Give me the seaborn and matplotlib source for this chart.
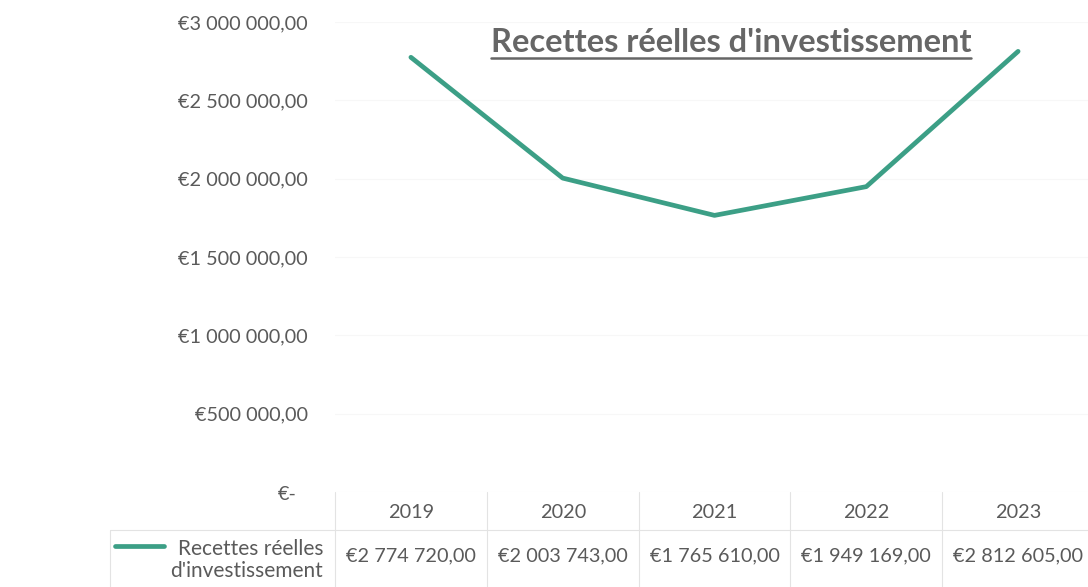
import matplotlib
matplotlib.use("Agg")
import matplotlib.pyplot as plt
from matplotlib.lines import Line2D
from matplotlib.ticker import FuncFormatter
import matplotlib.transforms as mtransforms
import pandas as pd
import seaborn as sns

# Données : recettes réelles d'investissement par année
annees = ["2019", "2020", "2021", "2022", "2023"]
recettes = [2774720.00, 2003743.00, 1765610.00, 1949169.00, 2812605.00]
serie_nom = "Recettes réelles\nd'investissement"
titre = "Recettes réelles d'investissement"

COULEUR_LIGNE = "#3c9f86"
COULEUR_TEXTE = "#5a5a5a"
COULEUR_BORD = "#e3e3e3"
FONT = "Lato"
FS = 14.3


def euro(v):
    if v == 0:
        return "€-"
    entier = f"{v:,.2f}".replace(",", " ").replace(".", ",")
    return "€" + entier


sns.set_theme(style="white")
plt.rcParams["font.family"] = [FONT, "DejaVu Sans"]

W, H = 1088, 587
fig = plt.figure(figsize=(W / 100, H / 100), dpi=100)
fig.patch.set_facecolor("white")

# zone de tracé (en pixels : gauche 335, droite 1094, haut 22, bas 492)
left, right, top, bottom = 335, 1094, 22, 492
ax = fig.add_axes([left / W, 1 - bottom / H, (right - left) / W, (bottom - top) / H])

df = pd.DataFrame({"annee": annees, "montant": recettes})
df["pos"] = range(len(annees))
sns.lineplot(data=df, x="pos", y="montant", ax=ax, color=COULEUR_LIGNE,
             linewidth=3.4, solid_capstyle="round", solid_joinstyle="round")

ax.set_xlim(-0.5, len(annees) - 0.5)
ax.set_ylim(0, 3000000)
ax.set_yticks([0, 500000, 1000000, 1500000, 2000000, 2500000, 3000000])
ax.yaxis.set_major_formatter(FuncFormatter(lambda v, p: "" if v == 0 else euro(v)))
ax.set_xticks([])
ax.set_xlabel("")
ax.set_ylabel("")
ax.tick_params(axis="y", length=0, pad=19.5, labelsize=FS, labelcolor=COULEUR_TEXTE)
for s in ax.spines.values():
    s.set_visible(False)
ax.grid(axis="y", color="#f7f7f7", linewidth=0.8)
ax.set_axisbelow(True)

fx = lambda px: px / W
fy = lambda py: 1 - py / H

# étiquette du zéro (format comptable)
fig.text(fx(297), fy(494), euro(0), ha="right", va="center",
         fontsize=FS, color=COULEUR_TEXTE)

# titre souligné
t = fig.text(731 / W, 1 - 42 / H, titre, ha="center", va="center",
             fontsize=23.5, fontweight="bold", color="#666666")
fig.canvas.draw()
bb = t.get_window_extent(renderer=fig.canvas.get_renderer())
y_line = (bb.y0 - 1) / H
fig.add_artist(Line2D([bb.x0 / W, bb.x1 / W], [y_line, y_line],
                      transform=fig.transFigure, color="#666666", linewidth=1.8))

# tableau de données sous l'axe
y_head, y_sep, y_bot = 492, 530, 587
lw_b = 0.8
fig.add_artist(Line2D([fx(110), fx(W)], [fy(y_sep), fy(y_sep)],
                      transform=fig.transFigure, color=COULEUR_BORD, lw=lw_b))
fig.add_artist(Line2D([fx(110), fx(110)], [fy(y_sep), fy(y_bot)],
                      transform=fig.transFigure, color=COULEUR_BORD, lw=lw_b))
trans_x = mtransforms.blended_transform_factory(ax.transData, fig.transFigure)
for i in range(len(annees) + 1):
    ax.add_artist(Line2D([i - 0.5, i - 0.5], [fy(y_head), fy(y_bot)],
                         transform=trans_x, color=COULEUR_BORD, lw=lw_b, clip_on=False))
for i, (a, v) in enumerate(zip(annees, recettes)):
    ax.text(i, fy(512), a, transform=trans_x, ha="center", va="center",
            fontsize=FS, color=COULEUR_TEXTE, clip_on=False)
    ax.text(i, fy(556), euro(v), transform=trans_x, ha="center", va="center",
            fontsize=FS, color=COULEUR_TEXTE, clip_on=False)

# clé de légende de la série
fig.add_artist(Line2D([fx(115), fx(164)], [fy(546), fy(546)],
                      transform=fig.transFigure, color=COULEUR_LIGNE, lw=3.4,
                      solid_capstyle="round"))
fig.text(fx(323), fy(560), serie_nom, ha="right", va="center",
         fontsize=15, color=COULEUR_TEXTE, linespacing=1.15)

fig.savefig("out.png", dpi=100, facecolor="white")
